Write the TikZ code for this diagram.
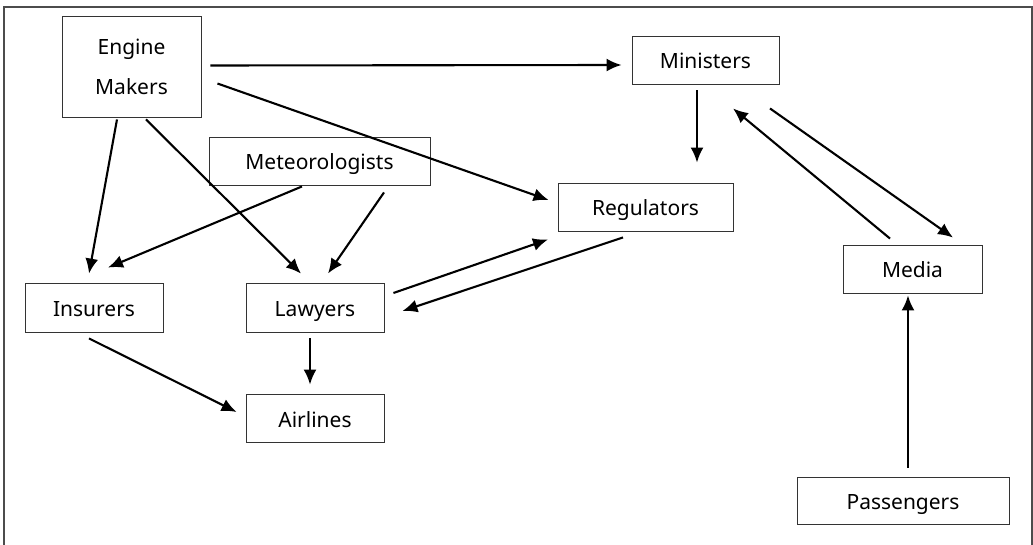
\documentclass[tikz,border=0pt]{standalone}
\usepackage{fontspec}
\setmainfont{Noto Sans}
\usepackage{tikz}
\usetikzlibrary{arrows.meta,calc}
\tikzset{
  actor/.style={draw=black!80,line width=0.9pt,minimum height=48pt,inner sep=0pt,
    text height=18pt,text depth=0pt,font=\fontsize{21}{24}\selectfont},
  link/.style={line width=2.1pt,-{Latex[length=15pt,width=13pt]}},
}

\begin{document}
\begin{tikzpicture}[x=1pt,y=-1pt]
    \useasboundingbox (0,0) rectangle (1033,545);
    \draw[black!70,line width=1.8pt] (4,546) -- (4,7) -- (1032,7) -- (1032,546);

    % the boxes
    \node[actor,minimum width=139pt,minimum height=101pt,align=center,text height=,text depth=,
      font=\fontsize{21}{40}\selectfont] (em) at (131.5,66.5) {Engine\\Makers};
    \node[actor,minimum width=147pt] (min) at (705.5,60) {Ministers};
    \node[actor,minimum width=221pt] (met) at (319.5,161) {Meteorologists};
    \node[actor,minimum width=175pt] (reg) at (645.5,207) {Regulators};
    \node[actor,minimum width=139pt] (med) at (912.5,269) {Media};
    \node[actor,minimum width=138pt,minimum height=49pt] (ins) at (94,307.5) {Insurers};
    \node[actor,minimum width=138pt,minimum height=49pt] (law) at (315,307.5) {Lawyers};
    \node[actor,minimum width=138pt] (air) at (315,418) {Airlines};
    \node[actor,minimum width=212pt,minimum height=47pt] (pas) at (903,500.5) {Passengers};

    % who talks to whom
    \draw[link] ($(em.east)+(9,-1)$) -- ($(min.west)+(-10,5)$);
    \draw[link] ($(em.east)+(16,17)$) -- ($(reg.west)+(-9,-7)$);
    \draw[link] ($(em.south)+(-14.5,2)$) -- ($(ins.north)+(-5,-9)$);
    \draw[link] ($(em.south)+(14.5,2)$) -- ($(law.north)+(-14,-9)$);
    \draw[link] ($(met.south)+(-17.5,1)$) -- ($(ins.north)+(14,-15)$);
    \draw[link] ($(met.south)+(64.5,7)$) -- ($(law.north)+(13,-9)$);
    \draw[link] ($(min.south)+(-8.5,6)$) -- ($(reg.north)+(51.5,-20)$);
    \draw[link] ($(med.north)+(-22.5,-6)$) -- ($(min.south)+(27.5,24)$);
    \draw[link] ($(min.south)+(64.5,24)$) -- ($(med.north)+(40.5,-7)$);
    \draw[link] ($(law.east)+(9,-14.5)$) -- ($(reg.south)+(-97.5,8)$);
    \draw[link] ($(reg.south)+(-22.5,6)$) -- ($(law.east)+(18,3.5)$);
    \draw[link] ($(law.south)+(-5,6)$) -- ($(air.north)+(-5,-9)$);
    \draw[link] ($(ins.south)+(-5,6)$) -- ($(air.west)+(-9,-6)$);
    \draw[link] ($(pas.north)+(5,-9)$) -- ($(med.south)+(-4.5,2)$);
\end{tikzpicture}
\end{document}
